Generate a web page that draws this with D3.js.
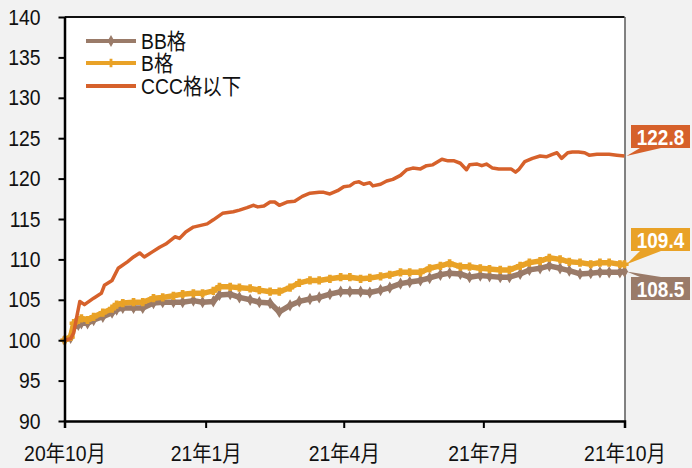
<!DOCTYPE html>
<html><head><meta charset="utf-8">
<script src="https://cdn.jsdelivr.net/npm/d3@7/dist/d3.min.js"></script>
<style>
html,body{margin:0;padding:0;background:#f2f2f2;}
svg{display:block;font-family:"Liberation Sans",Arial,"Noto Sans CJK SC",sans-serif;}
</style></head><body>
<svg id="c" width="692" height="468"></svg>
<script>
// ---- data ----
const seriesNames = ["BB格", "B格", "CCC格以下"];
const tickDates = ["2020-10-01","2021-01-01","2021-04-01","2021-07-01","2021-10-01"];
const tickLabels = ["20年10月","21年1月","21年4月","21年7月","21年10月"];
const yTicks = [90,95,100,105,110,115,120,125,130,135,140];

const bDates = ["2020-10-01","2020-10-05","2020-10-07","2020-10-10","2020-10-12","2020-10-16","2020-10-20","2020-10-26",
"2020-11-01","2020-11-04","2020-11-08","2020-11-15","2020-11-21","2020-11-28","2020-12-04","2020-12-11","2020-12-17",
"2020-12-24","2020-12-30","2021-01-06","2021-01-10","2021-01-17","2021-01-23","2021-01-30","2021-02-05","2021-02-12",
"2021-02-18","2021-02-25","2021-03-03","2021-03-10","2021-03-16","2021-03-23","2021-03-30","2021-04-05","2021-04-12",
"2021-04-18","2021-04-25","2021-05-01","2021-05-08","2021-05-14","2021-05-21","2021-05-27","2021-06-03","2021-06-09",
"2021-06-16","2021-06-22","2021-06-29","2021-07-05","2021-07-12","2021-07-18","2021-07-25","2021-07-31","2021-08-07",
"2021-08-13","2021-08-20","2021-08-26","2021-09-02","2021-09-09","2021-09-15","2021-09-21","2021-09-28","2021-10-01"];
const bValues = [100.0,100.4,102.1,102.5,102.7,102.5,102.9,103.4,
103.9,104.4,104.6,104.7,104.7,105.2,105.3,105.5,105.7,
105.8,105.8,106.1,106.6,106.6,106.5,106.4,106.2,106.0,
106.0,106.5,107.1,107.4,107.4,107.6,107.8,107.8,107.6,
107.7,107.9,108.1,108.4,108.4,108.4,108.9,109.2,109.5,
109.1,109.1,108.9,108.8,108.7,108.7,109.2,109.6,109.8,
110.2,110.0,109.7,109.6,109.4,109.6,109.6,109.4,109.4];
const bbValues = [100.0,100.3,101.6,101.9,102.1,102.1,102.5,102.9,
103.4,103.8,104.0,104.0,104.0,104.6,104.7,104.7,104.7,
104.9,104.7,104.8,105.6,105.7,105.3,105.0,104.7,104.6,
103.5,104.3,104.8,105.1,105.3,105.7,106.0,106.0,106.0,
105.9,106.2,106.5,107.0,107.2,107.4,107.7,108.1,108.3,
108.2,107.8,108.0,107.9,107.8,107.8,108.2,108.7,108.9,
109.2,108.9,108.6,108.2,108.3,108.4,108.4,108.4,108.5];

const cccDates = ["2020-10-01","2020-10-05","2020-10-07","2020-10-09","2020-10-11","2020-10-14","2020-10-20","2020-10-25",
"2020-10-27","2020-11-01","2020-11-05","2020-11-11","2020-11-15","2020-11-19","2020-11-22","2020-11-27","2020-12-02",
"2020-12-06","2020-12-12","2020-12-15","2020-12-19","2020-12-24","2021-01-02","2021-01-06","2021-01-12","2021-01-19",
"2021-01-23","2021-01-28","2021-02-01","2021-02-04","2021-02-08","2021-02-12","2021-02-15","2021-02-18","2021-02-23",
"2021-02-28","2021-03-05","2021-03-10","2021-03-16","2021-03-19","2021-03-23","2021-03-28","2021-04-01","2021-04-05",
"2021-04-08","2021-04-11","2021-04-14","2021-04-18","2021-04-20","2021-04-25","2021-04-29","2021-05-03","2021-05-08",
"2021-05-12","2021-05-16","2021-05-21","2021-05-25","2021-05-29","2021-06-04","2021-06-08","2021-06-12","2021-06-16",
"2021-06-20","2021-06-22","2021-06-27","2021-06-30","2021-07-03","2021-07-07","2021-07-11","2021-07-19","2021-07-22",
"2021-07-24","2021-07-28","2021-08-02","2021-08-07","2021-08-11","2021-08-15","2021-08-18","2021-08-21","2021-08-25",
"2021-08-28","2021-09-01","2021-09-05","2021-09-08","2021-09-13","2021-09-17","2021-09-21","2021-09-26","2021-10-01"];
const cccValues = [100.0,100.2,100.9,102.9,104.8,104.4,105.2,105.8,
106.8,107.4,108.9,109.7,110.3,110.8,110.3,110.9,111.5,
111.9,112.8,112.6,113.4,114.0,114.4,114.9,115.7,115.9,
116.1,116.4,116.7,116.5,116.6,117.1,117.1,116.7,117.1,
117.2,117.8,118.2,118.3,118.3,118.1,118.5,119.0,119.1,
119.5,119.6,119.3,119.5,119.1,119.3,119.7,119.9,120.4,
121.1,121.3,121.2,121.6,121.7,122.4,122.2,122.2,121.9,
121.1,121.7,121.8,121.6,121.8,121.3,121.2,121.2,120.8,
121.1,122.1,122.5,122.8,122.7,123.0,123.2,122.5,123.2,
123.3,123.3,123.2,122.9,123.0,123.0,123.0,122.9,122.8];

const colors = {bb:"#9a7b69", b:"#e9a227", ccc:"#d6612b"};

// ---- chart ----
const svg = d3.select("#c");
const parse = d3.utcParse("%Y-%m-%d");
const mLeft = 64.5, mRight = 624.5, mTop = 17, mBottom = 421;
const SX = 0.88; // horizontal text compression
const x = d3.scaleUtc().domain([parse("2020-10-01"), parse("2021-10-01")]).range([mLeft, mRight]);
const y = d3.scaleLinear().domain([90, 140]).range([mBottom, mTop]);

svg.append("rect").attr("x", mLeft).attr("y", mTop).attr("width", mRight-mLeft).attr("height", mBottom-mTop).attr("fill", "#fff");
svg.append("line").attr("x1", mLeft).attr("x2", mRight).attr("y1", mTop).attr("y2", mTop).attr("stroke", "#111").attr("stroke-width", 2);
svg.append("line").attr("x1", mRight+0.5).attr("x2", mRight+0.5).attr("y1", mTop).attr("y2", mBottom).attr("stroke", "#333").attr("stroke-width", 1.2);

const mk = (dates, vals) => dates.map((d,i) => ({d: parse(d), v: vals[i]}));
const bb = mk(bDates, bbValues), b = mk(bDates, bValues), ccc = mk(cccDates, cccValues);
const line = d3.line().x(p => x(p.d)).y(p => y(p.v));

function drawSeries(data, color, width, marker){
  const g = svg.append("g");
  g.append("path").datum(data).attr("d", line).attr("fill", "none").attr("stroke", color)
    .attr("stroke-width", width).attr("stroke-linejoin", "round");
  if (marker) {
    g.selectAll("path.m").data(data).enter().append("path").attr("class","m")
      .attr("d", d3.symbol().type(marker).size(26)())
      .attr("transform", p => `translate(${x(p.d)},${y(p.v)})`)
      .attr("fill", color).attr("stroke", color).attr("stroke-width", 1.4);
  }
}
drawSeries(bb, colors.bb, 5.5, d3.symbolDiamond);
drawSeries(b, colors.b, 5.5, d3.symbolCross);
drawSeries(ccc, colors.ccc, 3.5, null);

// axes
const yAxis = svg.append("g").attr("transform", `translate(${mLeft},0)`)
  .call(d3.axisLeft(y).tickValues(yTicks).tickSize(6).tickPadding(17));
const xAxis = svg.append("g").attr("transform", `translate(0,${mBottom})`)
  .call(d3.axisBottom(x).tickValues(tickDates.map(parse)).tickSize(7).tickPadding(12)
    .tickFormat((d,i) => tickLabels[i]));
[yAxis, xAxis].forEach(a => {
  a.select(".domain").attr("stroke", "#000").attr("stroke-width", 2.5);
  a.selectAll(".tick line").attr("stroke", "#000").attr("stroke-width", 2);
  a.selectAll(".tick text").attr("fill", "#111").attr("font-size", 22)
    .attr("font-family", '"Liberation Sans",Arial,"Noto Sans CJK SC",sans-serif')
    .attr("transform", `scale(${SX},1)`);
});
yAxis.select(".domain").attr("d", `M0.5,${mTop}V${mBottom}`);
yAxis.selectAll(".tick text").attr("x", -24 / SX);
xAxis.selectAll(".tick text").attr("dy", "0.95em");

// legend
const leg = [
  {name: seriesNames[0], color: colors.bb, marker: d3.symbolDiamond, yy: 41},
  {name: seriesNames[1], color: colors.b, marker: d3.symbolCross, yy: 63},
  {name: seriesNames[2], color: colors.ccc, marker: null, yy: 86}
];
leg.forEach(l => {
  svg.append("line").attr("x1", 86).attr("x2", 136).attr("y1", l.yy).attr("y2", l.yy)
    .attr("stroke", l.color).attr("stroke-width", 4);
  if (l.marker) svg.append("path").attr("d", d3.symbol().type(l.marker).size(40)())
    .attr("transform", `translate(111,${l.yy})`).attr("fill", l.color);
  svg.append("text").attr("transform", `translate(141,${l.yy + 8}) scale(${SX},1)`)
    .attr("font-size", 22).attr("fill", "#111").text(l.name);
});

// callouts
const callouts = [
  {val: cccValues[cccValues.length-1], date: cccDates[cccDates.length-1], color: colors.ccc, boxTop: 125, below: false},
  {val: bValues[bValues.length-1], date: bDates[bDates.length-1], color: colors.b, boxTop: 228, below: false},
  {val: bbValues[bbValues.length-1], date: bDates[bDates.length-1], color: colors.bb, boxTop: 277, below: true}
];
callouts.forEach(c => {
  const tx = x(parse(c.date)) + 2, ty = y(c.val);
  const bx = 631, bw = 59, bh = 23;
  const edge = c.below ? c.boxTop : c.boxTop + bh;
  svg.append("path").attr("d", `M${tx},${ty}L${bx+9},${edge}L${bx+30},${edge}Z`).attr("fill", c.color);
  svg.append("rect").attr("x", bx).attr("y", c.boxTop).attr("width", bw).attr("height", bh).attr("fill", c.color);
  svg.append("text").attr("transform", `translate(${bx + bw/2},${c.boxTop + bh/2 + 8}) scale(0.86,1)`)
    .attr("text-anchor", "middle")
    .attr("font-size", 22).attr("font-weight", "bold").attr("fill", "#fff").text(c.val.toFixed(1));
});
</script>
</body></html>
